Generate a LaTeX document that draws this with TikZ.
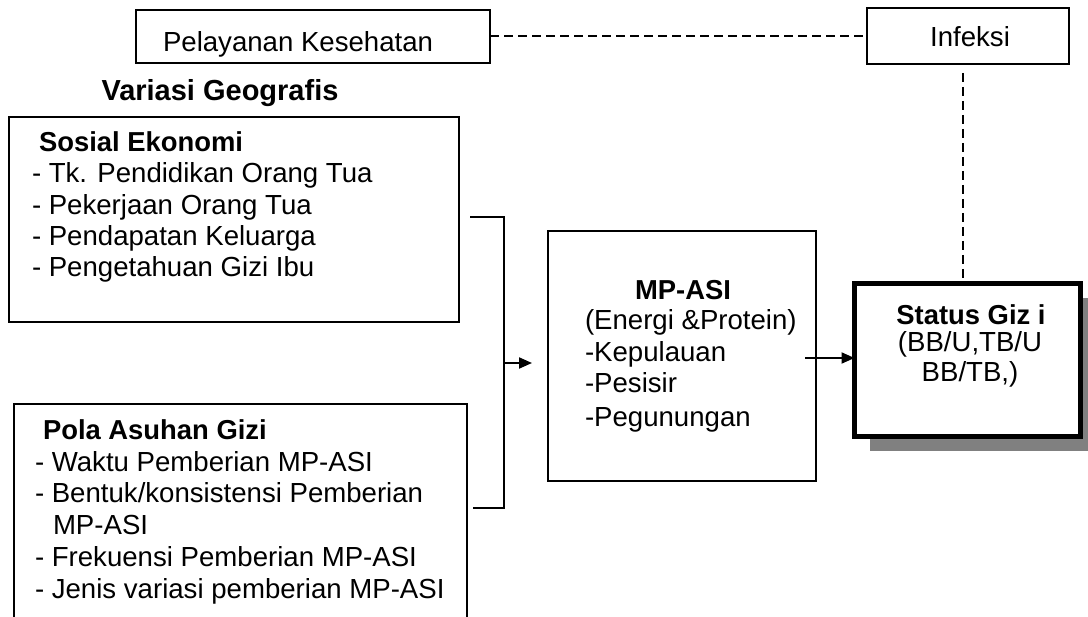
\documentclass[tikz,border=0pt]{standalone}
\usepackage{fontspec}
\setmainfont{Liberation Sans}
\usetikzlibrary{arrows.meta,shadows}
\begin{document}
\begin{tikzpicture}[x=1pt,y=-1pt,
  box/.style={draw, line width=2pt, inner sep=0pt, outer sep=0pt, anchor=north west},
  txt/.style={inner sep=0pt, outer sep=0pt, anchor=base west, font=\fontsize{27.6}{32}\selectfont},
  ctxt/.style={txt, anchor=base},
  hd/.style={txt, font=\fontsize{27.4}{32}\selectfont\bfseries},
  dline/.style={line width=2pt, dash pattern=on 9pt off 5pt},
  conn/.style={line width=2pt},
  arr/.style={line width=2pt, -{Triangle[length=13pt,width=11pt]}}
]
\useasboundingbox (0,0) rectangle (1088,617);
\clip (0,0) rectangle (1088,617);

% top boxes
\node[box, minimum width=354pt, minimum height=53pt] (pel) at (136,10) {};
\node[txt] (peltx) at (163,52) {Pelayanan Kesehatan};
\node[box, minimum width=202pt, minimum height=56pt] (inf) at (867,8) {};
\node[ctxt] (inftx) at (970,47) {Infeksi};

\node[hd, anchor=base, font=\fontsize{29}{32}\selectfont\bfseries] (var) at (220,101) {Variasi Geografis};

% Sosial Ekonomi
\node[box, minimum width=450pt, minimum height=205pt] (sos) at (9,117) {};
\node[hd] (sos0) at (39,152) {Sosial Ekonomi};
\node[txt] (sos1) at (32,183) {- Tk. Pendidikan Orang Tua};
\node[txt] (sos2) at (32,215) {- Pekerjaan Orang Tua};
\node[txt] (sos3) at (32,246) {- Pendapatan Keluarga};
\node[txt] (sos4) at (32,277) {- Pengetahuan Gizi Ibu};

% Pola Asuhan Gizi
\node[box, minimum width=453pt, minimum height=246pt] (pola) at (14,404) {};
\node[hd] (pola0) at (43,440) {Pola Asuhan Gizi};
\node[txt] (pola1) at (35,472) {- Waktu Pemberian MP-ASI};
\node[txt] (pola2) at (35,503) {- Bentuk/konsistensi Pemberian};
\node[txt] (pola2b) at (53,535) {MP-ASI};
\node[txt] (pola3) at (35,567) {- Frekuensi Pemberian MP-ASI};
\node[txt] (pola4) at (35,598) {- Jenis variasi pemberian MP-ASI};

% MP-ASI
\node[box, minimum width=268pt, minimum height=250pt] (mp) at (548,231) {};
\node[hd, anchor=base] (mp0) at (683,300) {MP-ASI};
\node[txt] (mp1) at (585,330) {(Energi \&Protein)};
\node[txt] (mp2) at (585,362) {-Kepulauan};
\node[txt] (mp3) at (585,393) {-Pesisir};
\node[txt] (mp4) at (585,427) {-Pegunungan};

% Status Gizi
\node[box, line width=5pt, fill=white, minimum width=226pt, minimum height=153pt,
  drop shadow={shadow xshift=15pt, shadow yshift=-15pt, fill=gray, opacity=1}] (gizi) at (854.5,283.5) {};
\node[hd, anchor=base] (gizi0) at (971,325) {Status Giz i};
\node[ctxt] (gizi1) at (970,352) {(BB/U,TB/U};
\node[ctxt] (gizi2) at (970,382) {BB/TB,)};

% connectors
\draw[dline] (pel.east) -- (pel.east -| inf.west);
\draw[dline, shorten <=9pt] ([xshift=-5pt]inf.south) -- ([xshift=-5pt]inf.south |- gizi.north);

\coordinate (b1) at (470,217);
\coordinate (b2) at (504,217);
\coordinate (b3) at (504,508);
\coordinate (b4) at (473,508);
\coordinate (bm) at (504,363);
\coordinate (a1) at (532,363);
\coordinate (m1) at (805,358);
\draw[conn] (b1) -- (b2) -- (b3) -- (b4);
\draw[arr] (bm) -- (a1);
\draw[arr] (m1) -- (m1 -| gizi.west);
\end{tikzpicture}
\end{document}
